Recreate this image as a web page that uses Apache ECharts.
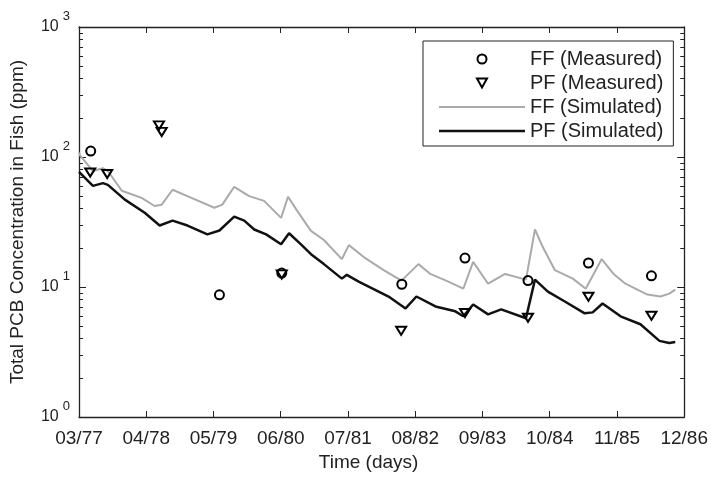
<!DOCTYPE html>
<html>
<head>
<meta charset="utf-8">
<script src="https://cdn.jsdelivr.net/npm/echarts@6/dist/echarts.min.js"></script>
<style>
html,body{margin:0;padding:0;background:#fff;}
#chart{width:711px;height:477px;}
</style>
</head>
<body>
<div id="chart"></div>
<script>
// x in days since 03/77; one tick every 396 days
const xTickLabels = ['03/77','04/78','05/79','06/80','07/81','08/82','09/83','10/84','11/85','12/86'];
const tickStep = 396;

const ffMeasDays = [69, 827, 1194, 1901, 2273, 2644, 3000, 3371];
const ffMeasVals = [111, 8.7, 12.8, 10.5, 16.7, 11.2, 15.3, 12.2];

const pfMeasDays = [66, 166, 471, 487, 1194, 1897, 2273, 2644, 3000, 3371];
const pfMeasVals = [76, 74, 175, 156, 12.5, 4.6, 6.3, 5.8, 8.4, 6.0];

const ffSimDays = [0, 6, 82, 141, 170, 252, 369, 445, 487, 551, 662, 797, 844, 914, 1002, 1090, 1190, 1231, 1284, 1366, 1442, 1548, 1589, 1677, 1794, 1899, 1999, 2069, 2175, 2263, 2321, 2409, 2509, 2632, 2685, 2732, 2802, 2908, 2984, 3078, 3148, 3218, 3347, 3424, 3476, 3511];
const ffSimVals = [108, 103, 78, 82, 78, 55, 48.5, 42, 43, 56, 48.5, 40.7, 43, 59, 50, 46, 34, 49.5, 38.7, 27, 23, 16.4, 21, 17, 13.5, 11.2, 15, 12.6, 11, 9.7, 15.6, 10.6, 12.6, 11.4, 27.7, 20.2, 13.5, 11.6, 9.7, 16.4, 12.6, 10.6, 8.75, 8.45, 8.9, 9.55];

const pfSimDays = [0, 82, 141, 170, 270, 387, 475, 551, 639, 756, 827, 914, 973, 1032, 1102, 1190, 1237, 1307, 1372, 1442, 1548, 1577, 1647, 1823, 1923, 1987, 2099, 2216, 2263, 2321, 2409, 2486, 2632, 2685, 2761, 2861, 2978, 3025, 3083, 3189, 3306, 3418, 3476, 3511];
const pfSimVals = [77, 60, 63, 61, 47, 37.3, 29.7, 32.4, 29.7, 25.4, 27.2, 34.8, 32.4, 27.7, 25.4, 21.3, 25.9, 21.3, 17.6, 15, 11.6, 12.4, 11, 8.45, 6.84, 8.45, 7.09, 6.5, 5.95, 7.34, 6.16, 6.73, 5.75, 11.4, 9.2, 7.74, 6.27, 6.38, 7.47, 5.95, 5.17, 3.85, 3.71, 3.78];

const yMajor = [1, 10, 100, 1000];
const yMinor = [2,3,4,5,6,7,8,9,20,30,40,50,60,70,80,90,200,300,400,500,600,700,800,900];

const zip = (a, b) => a.map((v, i) => [v, b[i]]);
const FONT = '"Liberation Sans", Arial, sans-serif';
const AX = '#222';
const FF_LINE = '#aaaaaa';
const PF_LINE = '#111111';

const chart = echarts.init(document.getElementById('chart'));

function yAx(pos, ticks, len, showLine, showLabel) {
  return {
    type: 'log', logBase: 10, min: 1, max: 1000, position: pos,
    axisLine: {show: showLine, lineStyle: {color: AX, width: 1.3}},
    axisTick: {show: true, inside: true, length: len, customValues: ticks, lineStyle: {color: AX, width: 1}},
    splitLine: {show: false},
    axisLabel: showLabel ? {
      show: true, margin: 9, customValues: yMajor,
      formatter: v => '{b|10}{s|' + Math.round(Math.log10(v)) + '}',
      rich: {
        b: {fontFamily: FONT, fontSize: 16, color: AX, lineHeight: 16},
        s: {fontFamily: FONT, fontSize: 13, color: AX, lineHeight: 13, padding: [0, 0, 22, 4]}
      }
    } : {show: false},
    name: showLabel ? 'Total PCB Concentration in Fish (ppm)' : '',
    nameLocation: 'middle', nameGap: 52,
    nameTextStyle: {fontFamily: FONT, fontSize: 19, color: AX}
  };
}

function xAx(pos, showLabel) {
  return {
    type: 'value', min: 0, max: tickStep * (xTickLabels.length - 1), interval: tickStep, position: pos,
    axisLine: {show: true, onZero: false, lineStyle: {color: AX, width: 1.3}},
    axisTick: {show: true, inside: true, length: 6, lineStyle: {color: AX, width: 1}},
    splitLine: {show: false},
    axisLabel: showLabel ? {
      show: true, margin: 12, fontFamily: FONT, fontSize: 19, color: AX,
      formatter: v => xTickLabels[Math.round(v / tickStep)]
    } : {show: false},
    name: showLabel ? 'Time (days)' : '',
    nameLocation: 'middle', nameGap: 36,
    nameTextStyle: {fontFamily: FONT, fontSize: 19, color: AX, padding: [0, 26, 0, 0]}
  };
}

const triPath = 'path://M0,0L10,0L5,9Z';

chart.setOption({
  animation: false,
  backgroundColor: '#fff',
  grid: {left: 79, right: 24, top: 27, bottom: 55},
  xAxis: [xAx('bottom', true), xAx('top', false)],
  yAxis: [
    yAx('left', yMajor, 7, true, true),
    yAx('left', yMinor, 4, false, false),
    yAx('right', yMajor, 7, true, false),
    yAx('right', yMinor, 4, false, false)
  ],
  legend: {
    orient: 'vertical', left: 423, top: 41,
    backgroundColor: '#fff', borderColor: AX, borderWidth: 1, borderRadius: 0,
    padding: [8, 10, 5, 16],
    itemWidth: 86, itemHeight: 9, itemGap: 4,
    symbolKeepAspect: true,
    textStyle: {fontFamily: FONT, fontSize: 20, color: AX, lineHeight: 19},
    data: [
      {name: 'FF (Measured)'},
      {name: 'PF (Measured)'},
      {name: 'FF (Simulated)', icon: 'path://M0,0L86,0L86,2L0,2Z', itemStyle: {color: FF_LINE, borderWidth: 0}},
      {name: 'PF (Simulated)', icon: 'path://M0,0L86,0L86,2.5L0,2.5Z', itemStyle: {color: PF_LINE, borderWidth: 0}}
    ]
  },
  series: [
    {
      name: 'FF (Simulated)', type: 'line', data: zip(ffSimDays, ffSimVals),
      showSymbol: false, symbol: 'none', z: 2,
      lineStyle: {color: FF_LINE, width: 2}, itemStyle: {color: FF_LINE}
    },
    {
      name: 'PF (Simulated)', type: 'line', data: zip(pfSimDays, pfSimVals),
      showSymbol: false, symbol: 'none', z: 3,
      lineStyle: {color: PF_LINE, width: 2.5}, itemStyle: {color: PF_LINE}
    },
    {
      name: 'FF (Measured)', type: 'scatter', data: zip(ffMeasDays, ffMeasVals),
      symbol: 'circle', symbolSize: 9, z: 4,
      itemStyle: {color: 'rgba(0,0,0,0)', borderColor: '#000', borderWidth: 2, opacity: 1}
    },
    {
      name: 'PF (Measured)', type: 'scatter', data: zip(pfMeasDays, pfMeasVals),
      symbol: triPath, symbolSize: [10, 9], symbolKeepAspect: true, z: 4,
      itemStyle: {color: 'rgba(0,0,0,0)', borderColor: '#000', borderWidth: 2, opacity: 1}
    }
  ]
});
</script>
</body>
</html>
